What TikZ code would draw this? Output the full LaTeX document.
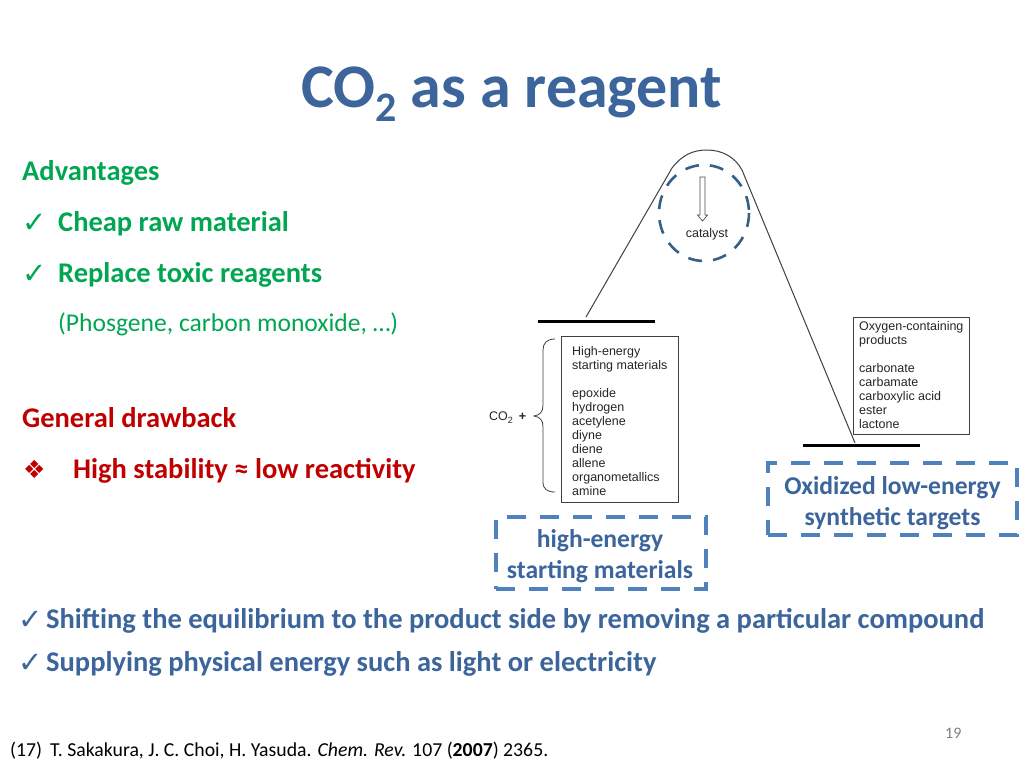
\documentclass[tikz,border=0pt]{standalone}
\usepackage{fontspec}
\setmainfont{Carlito}
\newfontfamily\arialfont{Liberation Sans}
\newfontfamily\symfont{DejaVu Sans}
\usepackage{xcolor}
\definecolor{titleblue}{HTML}{3B659B}
\definecolor{boxblue}{HTML}{4F81BD}
\definecolor{ringblue}{HTML}{386087}
\definecolor{goodgreen}{HTML}{00A651}
\definecolor{badred}{HTML}{C00000}
\tikzset{
  txt/.style={inner sep=0pt,anchor=base west},
  head/.style={txt,font=\fontsize{28.5}{32}\selectfont\bfseries},
  bullet/.style={txt,font=\fontsize{29}{32}\symfont},
  plot/.style={inner sep=0pt,anchor=north west,align=left,font=\fontsize{12.5}{14}\selectfont\arialfont,text=black!85},
  tag/.style={inner sep=0pt,align=center,text=titleblue,font=\fontsize{25.6}{30.5}\selectfont\bfseries},
  dashbox/.style={draw=boxblue,line width=3.4pt,dash pattern=on 19pt off 14pt},
  level/.style={fill=black,inner sep=0pt,minimum height=3pt}
}

\begin{document}
\begin{tikzpicture}[x=1pt,y=-1pt]
\useasboundingbox (0,0) rectangle (1024,768);
\fill[white] (0,0) rectangle (1024,768);

%title
\node[txt,text=titleblue,font=\fontsize{62}{64}\selectfont\bfseries] (title) at (301,107)
  {CO\raisebox{-0.24em}{\fontsize{42}{44}\selectfont 2} as a reagent};

%advantages
\node[head,text=goodgreen] (adv) at (22,180) {Advantages};
\node[bullet,text=goodgreen] (check1) at (22,232) {✓};
\node[head,text=goodgreen] (adv1) at (58,231) {Cheap raw material};
\node[bullet,text=goodgreen] (check2) at (22,283) {✓};
\node[head,text=goodgreen] (adv2) at (58,282) {Replace toxic reagents};
\node[txt,text=goodgreen,font=\fontsize{25.6}{30}\selectfont] (adv3) at (58,331) {(Phosgene, carbon monoxide, …)};

%drawback
\node[head,text=badred] (draw) at (22,427) {General drawback};
\node[bullet,text=badred,font=\fontsize{25}{28}\symfont] (diamond) at (23,478) {❖};
\node[head,text=badred] (draw1) at (73,478) {High stability ≈ low reactivity};

%energy profile
\node[level,minimum width=117pt] (startbar) at (596,321) {};
\node[level,minimum width=117pt] (endbar) at (861,445) {};
\coordinate (up) at (586,317);
\coordinate (down) at (855,443);
\draw[black!75,line width=1pt] (up) -- (672,168) .. controls (682,155) and (693,150) .. (707,150)
  .. controls (722,150) and (735,157) .. (742,170) -- (down);

\draw[ringblue,line width=2.6pt,dash pattern=on 14pt off 11pt] (704,213) ellipse (45 and 48);
\draw[black!70,fill=white,line width=0.7pt] (700,177) -- (705,177) -- (705,215) -- (707.5,215) -- (702.5,221) -- (697.5,215) -- (700,215) -- cycle;
\node[plot,anchor=center] (catalyst) at (707,234) {catalyst};

%start box
\draw[black!75,line width=1pt] (561,336) rectangle (678,502);
\node[plot] (startlist) at (572,346) {High-energy\\starting materials\\[14pt]epoxide\\hydrogen\\acetylene\\diyne\\diene\\allene\\organometallics\\amine};
\node[plot,anchor=base west] (coplus) at (489,420) {CO\raisebox{-0.25em}{\fontsize{9}{9}\selectfont 2}\kern6pt\textbf{+}};
\draw[black!75,line width=0.8pt] (555,339) .. controls (547,339) and (543,343) .. (543,350) -- (543,405)
  .. controls (543,412) and (540,415) .. (534,416) .. controls (540,417) and (543,420) .. (543,427) -- (543,482)
  .. controls (543,489) and (547,492) .. (555,492);

%end box
\draw[black!75,line width=1pt] (853,317) rectangle (969,434);
\node[plot] (endlist) at (859,321) {Oxygen-containing\\products\\[14pt]carbonate\\carbamate\\carboxylic acid\\ester\\lactone};

%dashed labels
\node[dashbox,minimum width=210pt,minimum height=72pt,inner sep=0pt] (startbox) at (601,553) {};
\node[tag] (starttag) at (600,556) {high-energy\\starting materials};
\node[dashbox,minimum width=249pt,minimum height=72pt,inner sep=0pt] (endbox) at (892.5,499) {};
\node[tag] (endtag) at (892.5,503) {Oxidized low-energy\\synthetic targets};

%bottom lines
\node[bullet,text=titleblue] (check3) at (18,629) {✓};
\node[head,text=titleblue] (line1) at (46,628) {Shifting the equilibrium to the product side by removing a particular compound};
\node[bullet,text=titleblue] (check4) at (18,672) {✓};
\node[head,text=titleblue] (line2) at (46,671) {Supplying physical energy such as light or electricity};

%reference and page
\node[txt,font=\fontsize{19.75}{24}\selectfont] (cite) at (10,756) {(17)\kern8pt T. Sakakura, J. C. Choi, H. Yasuda. \textit{Chem. Rev.} 107 (\textbf{2007}) 2365.};
\node[txt,text=black!50,font=\fontsize{16}{20}\selectfont] (page) at (945,738) {19};
\end{tikzpicture}
\end{document}
